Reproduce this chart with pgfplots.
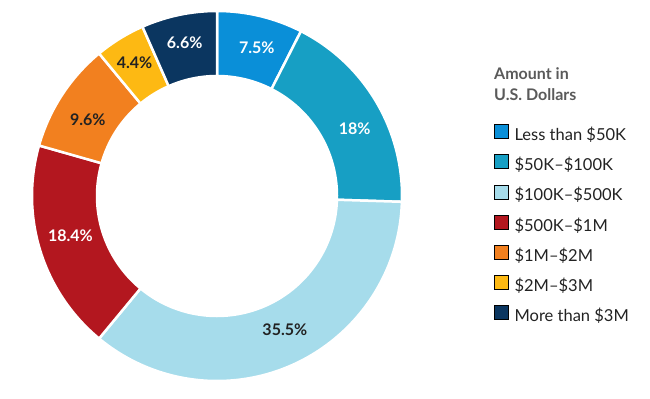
\documentclass[border=0pt]{standalone}
\usepackage{pgfplots}
\pgfplotsset{compat=1.18}
\usepackage{fontspec}
\setmainfont{Lato}
\definecolor{cA}{HTML}{0A8FD8}
\definecolor{cB}{HTML}{179FC4}
\definecolor{cC}{HTML}{A6DCEB}
\definecolor{cD}{HTML}{B3171F}
\definecolor{cE}{HTML}{F2801F}
\definecolor{cF}{HTML}{FDB913}
\definecolor{cG}{HTML}{0B3660}
\definecolor{txt}{HTML}{222222}
\definecolor{ttl}{HTML}{5A5A5A}
\tikzset{lbl/.style={font=\fontsize{16bp}{16bp}\selectfont\bfseries, inner sep=0pt}}
\begin{document}
\begin{tikzpicture}
\begin{axis}[
  width=650bp, height=398bp, scale only axis,
  xmin=0, xmax=650, ymin=0, ymax=398, y dir=reverse,
  hide axis, clip=false,
  legend style={at={(axis cs:494,124)}, anchor=north west, draw=none, fill=none,
    inner sep=0pt, column sep=6bp, row sep=10bp,
    font=\fontsize{16.5bp}{19bp}\selectfont, text=txt,
    nodes={inner sep=0pt, text height=12bp, text depth=4bp}},
  legend cell align=left,
  legend image code/.code={\fill[#1] (0bp,-2bp) rectangle (14bp,12bp);},
]
\path (rel axis cs:0,0) rectangle (rel axis cs:1,1);
\def\cum{0}
\foreach \v/\col/\lc/\da/\lr in {7.5/cA/white/-1.5/154, 18/cB/white/-4.7/153, 35.5/cC/txt/2.6/150, 18.4/cD/white/-2/152, 9.6/cE/txt/2.6/150, 4.4/cF/txt/0/157, 6.6/cG/white/0/157} {
  \pgfmathsetmacro\a{90-3.6*\cum}
  \pgfmathsetmacro\b{90-3.6*(\cum+\v)}
  \pgfmathsetmacro\m{(\a+\b)/2+\da}
  \edef\temp{\noexpand\fill[fill=\col, draw=white, line width=2.5bp] ([shift={(\a:185bp)}]axis cs:217,196) arc[start angle=\a, end angle=\b, radius=185bp] -- ([shift={(\b:120bp)}]axis cs:217,196) arc[start angle=\b, end angle=\a, radius=120bp] -- cycle;
  \noexpand\node[lbl, text=\lc] at ([shift={(\m:\lr bp)}]axis cs:217,196) {\v\noexpand\%};}
  \temp
  \pgfmathsetmacro\newcum{\cum+\v}\global\let\cum\newcum
}
\node[anchor=north west, align=left, inner sep=0pt, text=ttl,
  font=\fontsize{16bp}{21bp}\selectfont\bfseries] at (axis cs:494,67) {Amount in\\U.S. Dollars};
\addlegendimage{fill=cA}\addlegendentry{Less than \$50K}
\addlegendimage{fill=cB}\addlegendentry{\$50K--\$100K}
\addlegendimage{fill=cC}\addlegendentry{\$100K--\$500K}
\addlegendimage{fill=cD}\addlegendentry{\$500K--\$1M}
\addlegendimage{fill=cE}\addlegendentry{\$1M--\$2M}
\addlegendimage{fill=cF}\addlegendentry{\$2M--\$3M}
\addlegendimage{fill=cG}\addlegendentry{More than \$3M}
\end{axis}
\end{tikzpicture}
\end{document}
